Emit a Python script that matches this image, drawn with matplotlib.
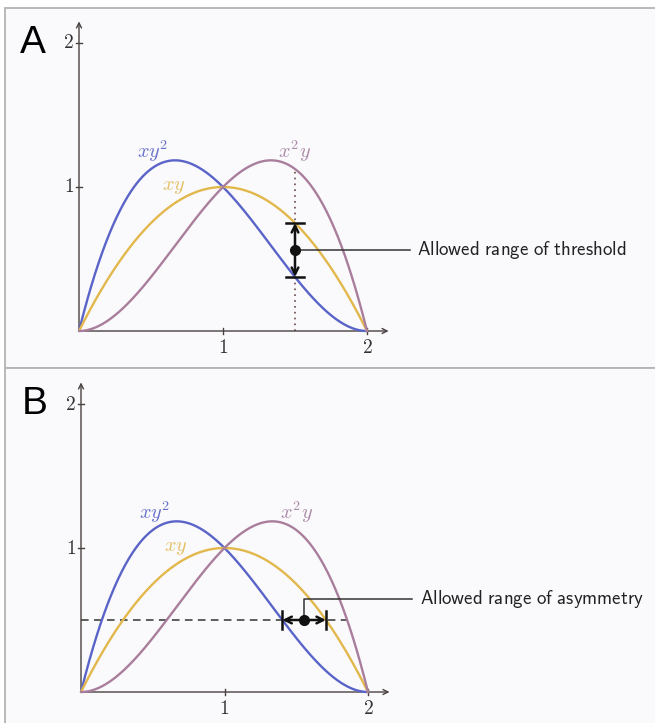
import numpy as np
import matplotlib
matplotlib.use("Agg")
import matplotlib.pyplot as plt
from matplotlib.patches import Rectangle

plt.rcParams['mathtext.fontset'] = 'cm'

# ---- data ----
x = np.linspace(0, 2, 401)
y = 2 - x
curve_names = [r'$xy^2$', r'$xy$', r'$x^2y$']
curves = [x * y**2, x * y, x**2 * y]
line_colors = ['#5a64c8', '#e2b84c', '#a97e9c']
label_colors = ['#6770cc', '#e3c063', '#ab8aa8']
label_pos = [(0.51, 1.245), (0.66, 1.005), (1.5, 1.245)]
tick_vals = [1, 2]
tick_labels = ['1', '2']

# panel A: threshold
thr_x = 1.5
thr_low = 0.375
thr_high = 0.75
thr_top = 1.125
thr_mid = 0.5625
thr_text = 'Allowed range of threshold'

# panel B: asymmetry
asy_y = 0.5
asy_left = 1.403
asy_right = 1.707
asy_dash_end = 1.86
asy_mid = 1.555
asy_elbow = 0.646
asy_text = 'Allowed range of asymmetry'

W, H = 655, 723
fig = plt.figure(figsize=(W / 100, H / 100), dpi=100)
fig.patch.set_facecolor('white')

def fr(px, py):
    return px / W, 1 - py / H

# frames
bg = '#fafafc'
for (top, bottom) in [(8, 368), (368, 740)]:
    x0, y0 = fr(5, bottom)
    fig.add_artist(Rectangle((x0, y0), 1.2, (bottom - top) / H,
                             transform=fig.transFigure, facecolor=bg,
                             edgecolor='#b4b4b4', lw=1.3, zorder=0))

def make_axes(ox, oy, ux, uy, xlim, ylim):
    left = ox + xlim[0] * ux
    right = ox + xlim[1] * ux
    top = oy - ylim[1] * uy
    bottom = oy - ylim[0] * uy
    ax = fig.add_axes([left / W, 1 - bottom / H, (right - left) / W, (bottom - top) / H])
    ax.set_xlim(*xlim)
    ax.set_ylim(*ylim)
    ax.axis('off')
    ax.patch.set_alpha(0)
    return ax

def draw_common(ax, letter):
    axc = '#4a4040'
    ax.annotate('', xy=(2.15, 0), xytext=(0, 0),
                arrowprops=dict(arrowstyle='->', lw=1.0, color=axc,
                                shrinkA=0, shrinkB=0, mutation_scale=9))
    ax.annotate('', xy=(0, 2.15), xytext=(0, 0),
                arrowprops=dict(arrowstyle='->', lw=1.0, color=axc,
                                shrinkA=0, shrinkB=0, mutation_scale=9))
    for v, t in zip(tick_vals, tick_labels):
        ax.plot([v, v], [-0.022, 0.022], color=axc, lw=1.0)
        ax.text(v, -0.05, '$' + t + '$', ha='center', va='top',
                fontsize=14, color='#333333')
        ax.plot([-0.022, 0.022], [v, v], color=axc, lw=1.0)
        ax.text(-0.035, v, '$' + t + '$', ha='right', va='center',
                fontsize=14, color='#333333')
    for c, col, name, lc, (lx, ly) in zip(curves, line_colors, curve_names,
                                          label_colors, label_pos):
        ax.plot(x, c, color=col, lw=1.7, solid_capstyle='round', zorder=3)
        ax.text(lx, ly, name, color=lc, fontsize=14.5, ha='center',
                va='center', zorder=4)
    ax.text(-0.32, 2.0, letter, fontsize=28, family='Liberation Sans',
            ha='center', va='center', color='black')

# ---- panel A ----
axA = make_axes(79, 331, 144, 144, (-0.55, 3.95), (-0.2, 2.25))
draw_common(axA, 'A')
axA.plot([thr_x, thr_x], [0, thr_top], color='#6a4848', lw=1.2,
         linestyle=(0, (1, 2.5)), zorder=2)
axA.annotate('', xy=(thr_x, thr_high), xytext=(thr_x, thr_low),
             arrowprops=dict(arrowstyle='<->', lw=1.8, color='#111111',
                             shrinkA=0, shrinkB=0, mutation_scale=12),
             zorder=6)
for v in (thr_low, thr_high):
    axA.plot([thr_x - 0.065, thr_x + 0.065], [v, v], color='#111111',
             lw=1.8, zorder=6)
axA.plot([thr_x, 2.30], [thr_mid, thr_mid], color='#333333', lw=1.1, zorder=5)
axA.plot([thr_x], [thr_mid], 'o', color='#111111', ms=7, zorder=7)
axA.text(2.35, thr_mid, r'$\mathsf{' + thr_text.replace(' ', r'\ ') + '}$',
         fontsize=13.6, ha='left', va='center', color='#222222')

# ---- panel B ----
axB = make_axes(81, 692, 143.5, 144, (-0.55, 3.95), (-0.2, 2.25))
draw_common(axB, 'B')
axB.plot([0, asy_dash_end], [asy_y, asy_y], color='#333333', lw=1.1,
         linestyle=(0, (5, 3.5)), zorder=2)
axB.annotate('', xy=(asy_right, asy_y), xytext=(asy_left, asy_y),
             arrowprops=dict(arrowstyle='<->', lw=1.8, color='#111111',
                             shrinkA=0, shrinkB=0, mutation_scale=12),
             zorder=6)
for v in (asy_left, asy_right):
    axB.plot([v, v], [asy_y - 0.065, asy_y + 0.065], color='#111111',
             lw=1.8, zorder=6)
axB.plot([asy_mid, asy_mid, 2.31], [asy_y, asy_elbow, asy_elbow],
         color='#333333', lw=1.1, zorder=5)
axB.plot([asy_mid], [asy_y], 'o', color='#111111', ms=7, zorder=7)
axB.text(2.36, asy_elbow, r'$\mathsf{' + asy_text.replace(' ', r'\ ') + '}$',
         fontsize=13.6, ha='left', va='center', color='#222222')

fig.savefig('out.png', dpi=100, facecolor='white')
